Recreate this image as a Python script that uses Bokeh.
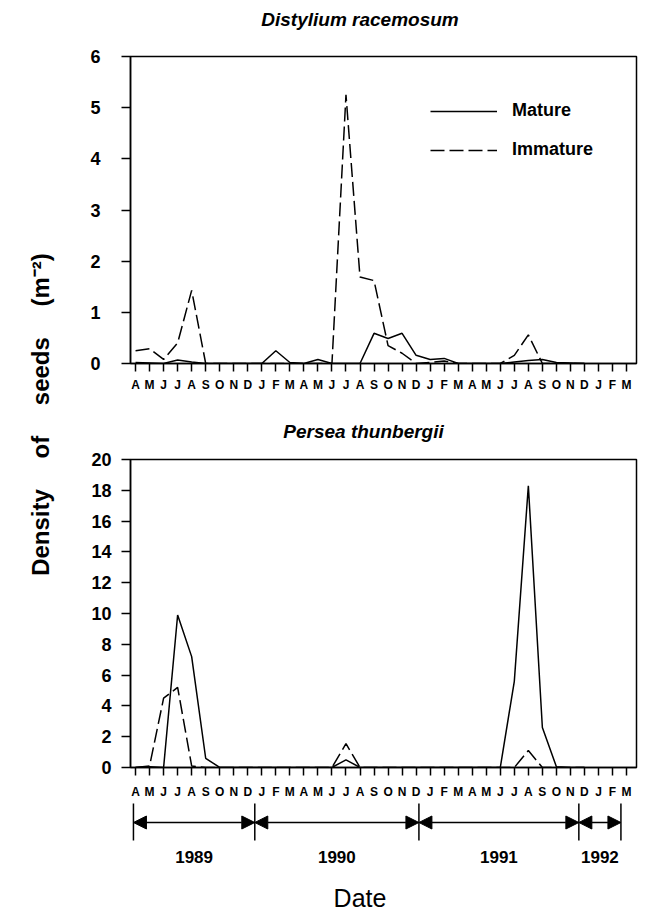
import math
from bokeh.plotting import figure
from bokeh.models import (Range1d, FixedTicker, Legend, LegendItem, Label,
                          Arrow, NormalHead)
from bokeh.layouts import row, column
from bokeh.embed import file_html
from bokeh.resources import INLINE
from bokeh.core.properties import value

# ---------------- data ----------------
months = ["A", "M", "J", "J", "A", "S", "O", "N", "D", "J", "F", "M",
          "A", "M", "J", "J", "A", "S", "O", "N", "D", "J", "F", "M",
          "A", "M", "J", "J", "A", "S", "O", "N", "D", "J", "F", "M"]
month_index = list(range(33))   # Apr 1989 ... Dec 1991

dist_mature = [0.02, 0.01, 0.0, 0.07, 0.03, 0.0, 0.0, 0.0, 0.0, 0.0, 0.25,
               0.02, 0.0, 0.08, 0.0, 0.0, 0.0, 0.59, 0.49, 0.59, 0.16, 0.08,
               0.1, 0.0, 0.0, 0.0, 0.0, 0.03, 0.06, 0.08, 0.02, 0.01, 0.0]
dist_immature = [0.25, 0.29, 0.08, 0.4, 1.43, 0.0, 0.0, 0.0, 0.0, 0.0, 0.0,
                 0.0, 0.0, 0.0, 0.0, 5.25, 1.69, 1.62, 0.35, 0.2, 0.0, 0.02,
                 0.05, 0.0, 0.0, 0.0, 0.0, 0.16, 0.56, 0.0, 0.0, 0.0, 0.0]
pers_mature = [0.0, 0.05, 0.0, 9.9, 7.2, 0.6, 0.0, 0.0, 0.0, 0.0, 0.0,
               0.0, 0.0, 0.0, 0.0, 0.5, 0.0, 0.0, 0.0, 0.0, 0.0, 0.0,
               0.0, 0.0, 0.0, 0.0, 0.0, 5.6, 18.3, 2.6, 0.05, 0.0, 0.0]
pers_immature = [0.0, 0.1, 4.5, 5.2, 0.1, 0.0, 0.0, 0.0, 0.0, 0.0, 0.0,
                 0.0, 0.0, 0.0, 0.0, 1.55, 0.0, 0.0, 0.0, 0.0, 0.0, 0.0,
                 0.0, 0.0, 0.0, 0.0, 0.0, 0.0, 1.1, 0.0, 0.0, 0.0, 0.0]

dist_ticks = [0, 1, 2, 3, 4, 5, 6]
pers_ticks = [0, 2, 4, 6, 8, 10, 12, 14, 16, 18, 20]

years = ["1989", "1990", "1991", "1992"]
year_bounds = [-0.15, 8.5, 20.2, 31.6, 34.6]   # in month units

FONT = "Liberation Sans"
DASH = "14 5"

x_range = Range1d(-0.36, 35.71)


def strip(height):
    """Axis-less figure whose frame lines up with the panels' frames."""
    f = figure(frame_width=506, frame_height=height, x_range=x_range,
               y_range=Range1d(0, height), x_axis_type=None,
               y_axis_type=None, min_border_left=62, min_border_right=3,
               min_border_top=0, min_border_bottom=0,
               outline_line_color=None, title=None,
               output_backend="svg", toolbar_location=None)
    f.grid.visible = False
    return f


def title_fig(text, height, cx, cy):
    f = strip(height)
    f.text(x=[cx], y=[cy], text=[text], text_align="center",
           text_baseline="middle", text_font=value(FONT),
           text_font_size="19px", text_font_style="bold italic",
           text_color="black")
    return f


def make_panel(ymax, yticks, ystand, bottom, fh, xstand):
    p = figure(frame_width=506, frame_height=fh, x_range=x_range,
               y_range=Range1d(0, ymax),
               min_border_left=62, min_border_right=3,
               min_border_top=10, min_border_bottom=bottom,
               title=None,
               output_backend="svg", toolbar_location=None)
    p.grid.visible = False
    p.outline_line_color = "black"
    p.outline_line_width = 1.5
    p.outline_line_alpha = 1.0
    p.background_fill_color = "white"
    p.border_fill_color = "white"
    for ax in (p.xaxis, p.yaxis):
        ax.axis_line_width = 1.5
        ax.axis_line_color = "black"
        ax.major_tick_line_width = 1.5
        ax.major_tick_line_color = "black"
        ax.minor_tick_line_color = None
        ax.major_tick_in = 0
        ax.major_label_text_font = FONT
        ax.major_label_text_font_style = "bold"
        ax.major_label_text_color = "black"
    p.xaxis.ticker = FixedTicker(ticks=list(range(len(months))))
    p.xaxis.major_label_overrides = {i: m for i, m in enumerate(months)}
    p.xaxis.major_label_text_font_size = "12px"
    p.xaxis.major_tick_out = 8
    p.xaxis.major_label_standoff = xstand
    p.yaxis.ticker = FixedTicker(ticks=yticks)
    p.yaxis.major_label_text_font_size = "18px"
    p.yaxis.major_tick_out = 9
    p.yaxis.major_label_standoff = ystand
    return p


# ---------------- top panel ----------------
T1 = 46
t1 = title_fig("Distylium racemosum", T1, 16.0, 27)
p1 = make_panel(6, dist_ticks, 21, 45, 307, 6)
r1 = p1.line(month_index, dist_mature, line_color="black", line_width=1.5)
r2 = p1.line(month_index, dist_immature, line_color="black", line_width=1.5,
             line_dash=DASH)
legend = Legend(items=[LegendItem(label="Mature", renderers=[r1]),
                       LegendItem(label="Immature", renderers=[r2])],
                location=(300, 203), padding=0, margin=0, spacing=18,
                glyph_width=67, glyph_height=20, label_height=20,
                label_standoff=15, border_line_color=None,
                background_fill_alpha=0.0,
                label_text_font=FONT, label_text_font_size="18px",
                label_text_font_style="bold", label_text_color="black")
p1.add_layout(legend)

# ---------------- bottom panel ----------------
T2 = 41
t2 = title_fig("Persea thunbergii", T2, 16.25, 18)
p2 = make_panel(20, pers_ticks, 10, 35, 308, 9)
p2.line(month_index, pers_mature, line_color="black", line_width=1.5)
p2.line(month_index, pers_immature, line_color="black", line_width=1.5,
        line_dash=DASH)

# ---------------- year timeline ----------------
H3 = 111
p3 = strip(H3)
p3.segment(x0=year_bounds, y0=[73] * len(year_bounds),
           x1=year_bounds, y1=[110] * len(year_bounds),
           line_color="black", line_width=1.5)
for a, b in zip(year_bounds[:-1], year_bounds[1:]):
    p3.add_layout(Arrow(
        start=NormalHead(size=13, fill_color="black", line_color="black"),
        end=NormalHead(size=13, fill_color="black", line_color="black"),
        x_start=a, y_start=91, x_end=b, y_end=91,
        line_color="black", line_width=1.5))
mids = [(a + b) / 2 for a, b in zip(year_bounds[:-1], year_bounds[1:])]
p3.text(x=mids, y=[57] * len(mids), text=years, text_align="center",
        text_baseline="middle", text_font=value(FONT),
        text_font_style="bold", text_font_size="17px", text_color="black")
p3.text(x=[16.0], y=[16], text=["Date"], text_align="center",
        text_baseline="middle", text_font=value(FONT),
        text_font_size="25px", text_color="black")

# ---------------- shared y label ----------------
TOTAL_H = T1 + (10 + 307 + 45) + T2 + (10 + 308 + 35) + H3
p0 = figure(width=68, height=TOTAL_H, x_axis_type=None, y_axis_type=None,
            min_border=0, outline_line_color=None, title=None,
            output_backend="svg", toolbar_location=None)
p0.grid.visible = False
GAP = "\u2003 "
p0.add_layout(Label(x=40, y=TOTAL_H - 414, x_units="screen",
                    y_units="screen",
                    text="Density" + GAP + "of" + GAP + "seeds" + GAP
                         + "(m\u207b\u00b2)",
                    angle=math.pi / 2, text_font=FONT, text_font_size="24px",
                    text_font_style="bold", text_align="center",
                    text_baseline="middle", text_color="black"))

layout = row(p0, column(t1, p1, t2, p2, p3))
open("out.html", "w").write(file_html(layout, INLINE))
